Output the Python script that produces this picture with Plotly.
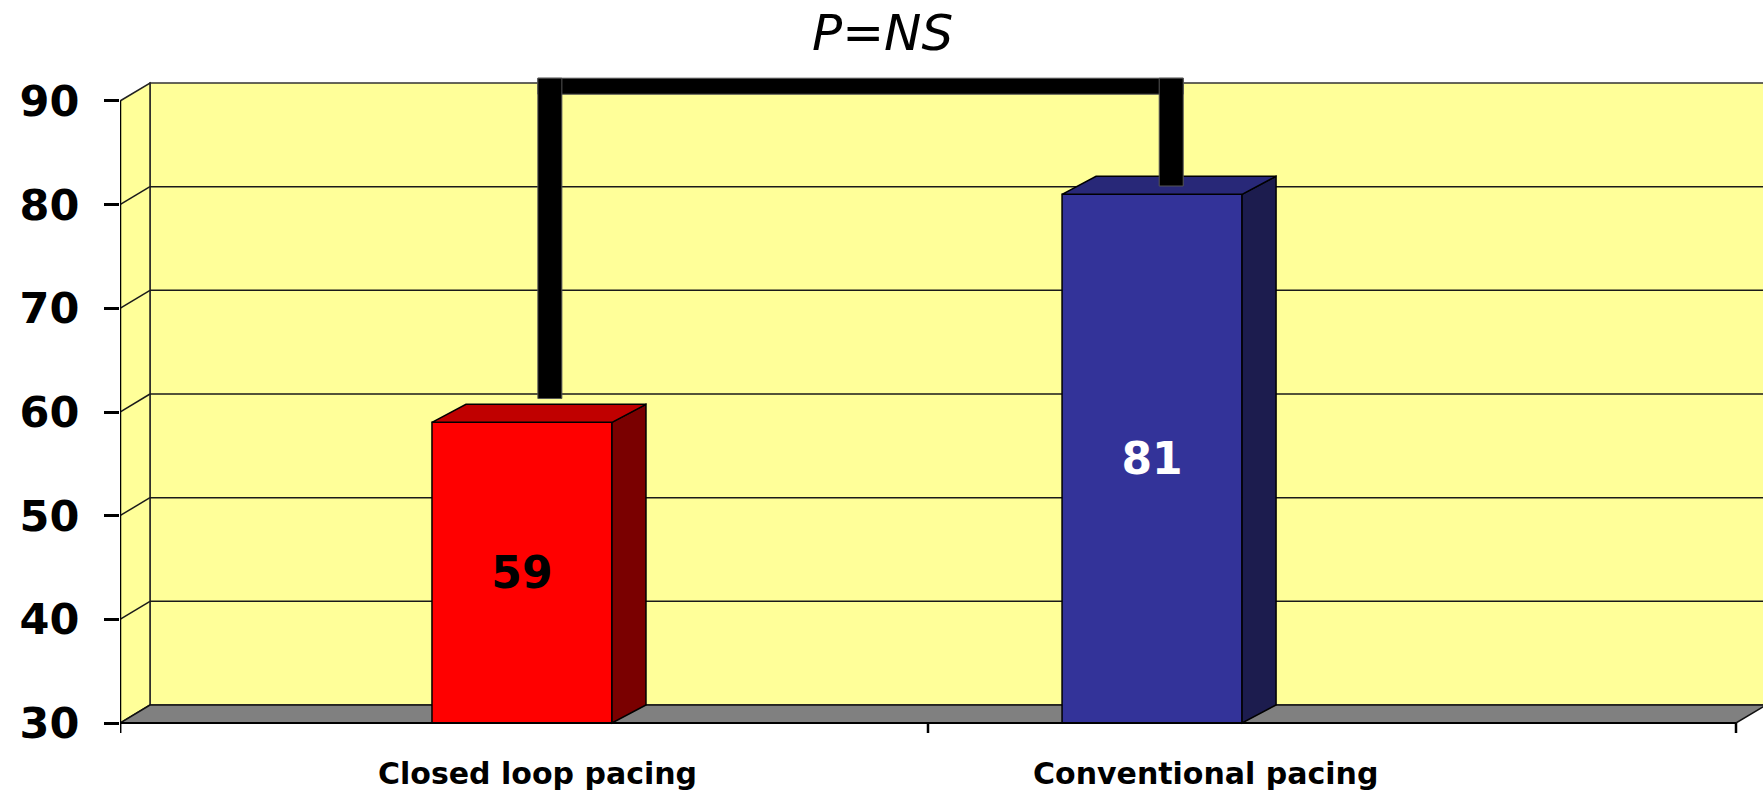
import plotly.graph_objects as go

# ---- data ----
categories = ["Closed loop pacing", "Conventional pacing"]
values = [59, 81]
y_ticks = [30, 40, 50, 60, 70, 80, 90]
significance_label = "P=NS"

# ---- canvas / axis geometry ----
W, H = 1763, 795
ML = 120
X_RANGE = [0.0, 2.03342]
Y_RANGE = [23.055, 99.742]
PX_X = (W - ML) / (X_RANGE[1] - X_RANGE[0])
PX_Y = H / (Y_RANGE[1] - Y_RANGE[0])


def dx(px):
    return px / PX_X


def dy(px):
    return px / PX_Y


FLOOR, TOP = y_ticks[0], y_ticks[-1]
N_CAT = len(categories)
wall_dx, wall_dy = dx(30), dy(18)
bar_dx, bar_dy = dx(34), dy(18)

bar_centers = [0.4975, 1.2773]
bar_width = dx(180)
label_x = [0.517, 1.344]
bracket_x = [0.532, 1.301]
bracket_ends = [61.3, 81.8]
bracket_top = 92.2

YELLOW = "#FFFF99"
FLOOR_GRAY = "#808080"
front_colors = ["#FF0000", "#333399"]
top_colors = ["#C00000", "#282878"]
side_colors = ["#7A0000", "#1C1C4E"]
value_colors = ["black", "white"]
FONT = "DejaVu Sans"

shapes = []


def path(points):
    return "M " + " L ".join(f"{x},{y}" for x, y in points) + " Z"


# back wall
shapes.append(dict(type="rect", xref="x", yref="y", layer="below",
                   x0=wall_dx, x1=N_CAT + wall_dx,
                   y0=FLOOR + wall_dy, y1=TOP + wall_dy,
                   fillcolor=YELLOW, line=dict(color="#333333", width=1.5)))
# side wall
shapes.append(dict(type="path", xref="x", yref="y", layer="below",
                   path=path([(0, FLOOR), (0, TOP), (wall_dx, TOP + wall_dy),
                              (wall_dx, FLOOR + wall_dy)]),
                   fillcolor=YELLOW, line=dict(color="#222222", width=1.5)))
# gridlines on both walls
for v in y_ticks[1:-1]:
    shapes.append(dict(type="line", xref="x", yref="y", layer="below",
                       x0=wall_dx, x1=N_CAT + wall_dx, y0=v + wall_dy, y1=v + wall_dy,
                       line=dict(color="#1a1a1a", width=1.5)))
    shapes.append(dict(type="line", xref="x", yref="y", layer="below",
                       x0=0, x1=wall_dx, y0=v, y1=v + wall_dy,
                       line=dict(color="#1a1a1a", width=1.5)))
# floor
shapes.append(dict(type="path", xref="x", yref="y", layer="below",
                   path=path([(0, FLOOR), (N_CAT, FLOOR), (N_CAT + wall_dx, FLOOR + wall_dy),
                              (wall_dx, FLOOR + wall_dy)]),
                   fillcolor=FLOOR_GRAY, line=dict(color="#111111", width=1.5)))

# 3-D faces of each column
for c, v, tc, sc in zip(bar_centers, values, top_colors, side_colors):
    xl, xr = c - bar_width / 2, c + bar_width / 2
    shapes.append(dict(type="path", xref="x", yref="y", layer="above",
                       path=path([(xr, FLOOR), (xr, v), (xr + bar_dx, v + bar_dy),
                                  (xr + bar_dx, FLOOR + bar_dy)]),
                       fillcolor=sc, line=dict(color="black", width=1.5)))
    shapes.append(dict(type="path", xref="x", yref="y", layer="above",
                       path=path([(xl, v), (xr, v), (xr + bar_dx, v + bar_dy),
                                  (xl + bar_dx, v + bar_dy)]),
                       fillcolor=tc, line=dict(color="black", width=1.5)))

# axes lines and category ticks
shapes.append(dict(type="line", xref="x", yref="y", layer="above",
                   x0=0, x1=0, y0=FLOOR - dy(10), y1=TOP,
                   line=dict(color="black", width=2.5)))
shapes.append(dict(type="line", xref="x", yref="y", layer="above",
                   x0=0, x1=N_CAT, y0=FLOOR, y1=FLOOR,
                   line=dict(color="black", width=2)))
for k in range(N_CAT + 1):
    shapes.append(dict(type="line", xref="x", yref="y", layer="above",
                       x0=k, x1=k, y0=FLOOR - dy(10), y1=FLOOR,
                       line=dict(color="black", width=2.5)))

# significance bracket
leg_w = dx(24)
bar_h = dy(16)
shapes.append(dict(type="rect", xref="x", yref="y", layer="above",
                   x0=bracket_x[0] - leg_w / 2, x1=bracket_x[1] + leg_w / 2,
                   y0=bracket_top - bar_h, y1=bracket_top,
                   fillcolor="black", line=dict(color="#555555", width=1)))
for bx, by in zip(bracket_x, bracket_ends):
    shapes.append(dict(type="rect", xref="x", yref="y", layer="above",
                       x0=bx - leg_w / 2, x1=bx + leg_w / 2, y0=by, y1=bracket_top,
                       fillcolor="black", line=dict(color="#555555", width=1)))

fig = go.Figure()
fig.add_trace(go.Bar(
    x=bar_centers,
    y=[v - FLOOR for v in values],
    base=FLOOR,
    width=bar_width,
    marker=dict(color=front_colors, line=dict(color="black", width=1.5)),
    text=[str(v) for v in values],
    textposition="inside",
    insidetextanchor="middle",
    textangle=0,
    constraintext="none",
    textfont=dict(family=FONT, size=44, color=value_colors, weight="bold"),
    hoverinfo="skip",
    cliponaxis=False,
))

annotations = []
for lx, name in zip(label_x, categories):
    annotations.append(dict(x=lx, y=FLOOR - dy(70), xref="x", yref="y", text=name,
                            showarrow=False, xanchor="center", yanchor="bottom",
                            font=dict(family=FONT, size=30, color="black", weight="bold")))
annotations.append(dict(x=0.944, y=96.6, xref="x", yref="y", text=significance_label,
                        showarrow=False, xanchor="center", yanchor="middle",
                        font=dict(family=FONT, size=50, color="black", style="italic")))

fig.update_layout(
    width=W, height=H,
    margin=dict(l=ML, r=0, t=0, b=0),
    paper_bgcolor="white", plot_bgcolor="white",
    showlegend=False,
    shapes=shapes,
    annotations=annotations,
    xaxis=dict(range=X_RANGE, visible=False, fixedrange=True),
    yaxis=dict(range=Y_RANGE, tickvals=y_ticks, ticktext=[str(t) for t in y_ticks],
               ticks="outside", ticklen=15, tickwidth=2.5, tickcolor="black",
               showgrid=False, zeroline=False, showline=False,
               ticklabelstandoff=16,
               tickfont=dict(family=FONT, size=43, color="black", weight="bold")),
)

fig.write_html("out.html")
